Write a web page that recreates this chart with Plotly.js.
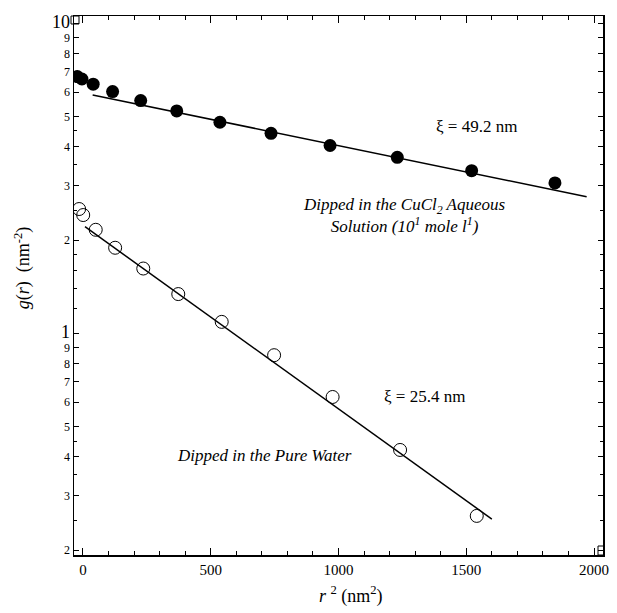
<!DOCTYPE html>
<html>
<head>
<meta charset="utf-8">
<script src="https://cdn.plot.ly/plotly-3.0.1.min.js"></script>
<style>html,body{margin:0;padding:0;background:#fff;}#chart{width:617px;height:613px;}</style>
</head>
<body>
<div id="chart"></div>
<script>
// r^2 (nm^2) and g(r) values
const cuclX = [-22, -4, 40, 116, 226, 367, 536, 736, 967, 1230, 1521, 1847];
const cuclY = [6.74, 6.62, 6.37, 6.03, 5.64, 5.22, 4.80, 4.42, 4.04, 3.70, 3.35, 3.06];
const waterX = [-15, 1, 50, 126, 236, 373, 543, 748, 977, 1241, 1541];
const waterY = [2.52, 2.41, 2.16, 1.89, 1.62, 1.34, 1.09, 0.851, 0.624, 0.421, 0.258];
const cuclFitX = [38, 1971];
const cuclFitY = [5.88, 2.76];
const waterFitX = [8, 1600];
const waterFitY = [2.21, 0.252];

const xTickVals = [0, 500, 1000, 1500, 2000];
const xTickText = ['0', '500', '1000', '1500', '2000'];
const yTickVals = [0.2,0.3,0.4,0.5,0.6,0.7,0.8,0.9,1,2,3,4,5,6,7,8,9,10];
const yTickText = ['2','3','4','5','6','7','8','9','1','2','3','4','5','6','7','8','9','10'];
const yMinor = [0.25,0.35,0.45,1.2,1.4,1.6,1.8,2.5,3.5,4.5];

const serif = 'Liberation Serif';

const traces = [
  {x: cuclFitX, y: cuclFitY, mode: 'lines', line: {color: '#000', width: 1.5}, showlegend: false},
  {x: waterFitX, y: waterFitY, mode: 'lines', line: {color: '#000', width: 1.5}, showlegend: false},
  {x: cuclX, y: cuclY, mode: 'markers', marker: {symbol: 'circle', size: 13, color: '#000'}, showlegend: false},
  {x: waterX, y: waterY, mode: 'markers', marker: {symbol: 'circle-open', size: 13, color: '#000', line: {width: 1, color: '#000'}}, showlegend: false}
];

const yTextStyled = yTickVals.map((v, i) => (v === 1 || v === 10)
  ? "<span style='font-size:18px'>" + yTickText[i] + "</span>"
  : yTickText[i]);

const layout = {
  width: 617, height: 613,
  margin: {l: 74, r: 14, t: 16, b: 58},
  paper_bgcolor: '#fff', plot_bgcolor: '#fff',
  font: {family: serif, color: '#000'},
  xaxis: {
    range: [-35, 2035],
    tickmode: 'array', tickvals: xTickVals, ticktext: xTickText,
    ticks: 'inside', ticklen: 7, tickwidth: 1, tickcolor: '#000',
    minor: {tickmode: 'linear', tick0: 0, dtick: 100, ticks: 'inside', ticklen: 4, tickwidth: 1, tickcolor: '#000'},
    showline: true, linecolor: '#000', linewidth: 1.5, mirror: 'allticks',
    showgrid: false, zeroline: false,
    tickfont: {family: serif, size: 15, color: '#000'}
  },
  yaxis: {
    type: 'log', range: [-0.7145, 1.024],
    tickmode: 'array', tickvals: yTickVals, ticktext: yTextStyled,
    ticks: 'inside', ticklen: 5, tickwidth: 1, tickcolor: '#000',
    minor: {tickmode: 'array', tickvals: yMinor, ticks: 'inside', ticklen: 3, tickwidth: 1, tickcolor: '#000'},
    showline: true, linecolor: '#000', linewidth: 1.5, mirror: 'allticks',
    showgrid: false, zeroline: false,
    tickfont: {family: serif, size: 12, color: '#000'}
  },
  annotations: [
    {xref: 'paper', yref: 'paper', x: 0.5, y: 0, xanchor: 'center', yanchor: 'middle', xshift: 12, yshift: -40, showarrow: false,
     text: '<i>r</i> <sup>2</sup> (nm<sup>2</sup>)', font: {family: serif, size: 18, color: '#000'}},
    {xref: 'paper', yref: 'paper', x: 0, y: 0.532, xanchor: 'center', yanchor: 'middle', xshift: -51, showarrow: false, textangle: -90,
     text: '<i>g</i>(<i>r</i>)  (nm<sup>-2</sup>)', font: {family: serif, size: 18, color: '#000'}},
    {x: 1541, y: 0.667, showarrow: false, text: 'ξ = 49.2 nm', font: {family: serif, size: 17, color: '#000'}},
    {x: 1257, y: 0.382, showarrow: false, align: 'center',
     text: '<i>Dipped in the CuCl<sub>2</sub> Aqueous<br>Solution (10<sup>1</sup> mole l<sup>1</sup>)</i>',
     font: {family: serif, size: 17, color: '#000'}},
    {x: 1335, y: -0.204, showarrow: false, text: 'ξ = 25.4 nm', font: {family: serif, size: 17, color: '#000'}},
    {x: 712, y: -0.392, showarrow: false, text: '<i>Dipped in the Pure Water</i>', font: {family: serif, size: 17, color: '#000'}}
  ],
  shapes: [
    {type: 'rect', xref: 'paper', yref: 'paper', xsizemode: 'pixel', ysizemode: 'pixel', xanchor: 0, yanchor: 1,
     x0: -3, x1: 5, y0: -8, y1: 0, line: {color: '#000', width: 1}},
    {type: 'rect', xref: 'paper', yref: 'paper', xsizemode: 'pixel', ysizemode: 'pixel', xanchor: 1, yanchor: 0,
     x0: -5, x1: 1, y0: 0, y1: 9, line: {color: '#000', width: 1}}
  ]
};

Plotly.newPlot('chart', traces, layout, {displayModeBar: false, staticPlot: true});
</script>
</body>
</html>
